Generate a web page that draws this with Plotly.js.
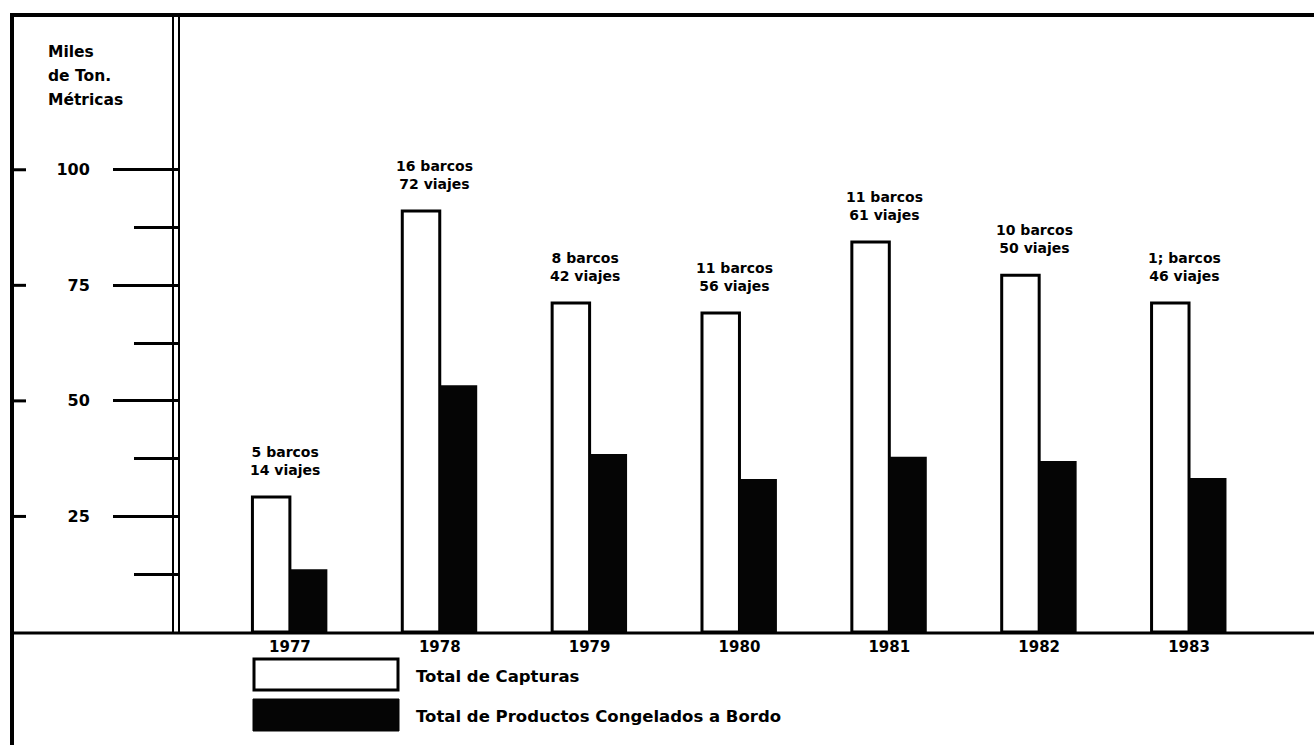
<!DOCTYPE html>
<html><head><meta charset="utf-8">
<script src="https://cdn.plot.ly/plotly-3.0.1.min.js"></script>
<style>html,body{margin:0;padding:0;background:#fff}</style>
</head><body><div id="chart" style="width:1314px;height:745px"></div>
<script>
// ---- data ----
const years = [1977, 1978, 1979, 1980, 1981, 1982, 1983];
const totalCapturas = [29.2, 91.1, 71.2, 69.0, 84.4, 77.2, 71.2];
const totalCongelados = [13.6, 53.4, 38.5, 33.1, 37.9, 37.0, 33.3];
const barcos = ['5 barcos', '16 barcos', '8 barcos', '11 barcos', '11 barcos', '10 barcos', '1; barcos'];
const viajes = ['14 viajes', '72 viajes', '42 viajes', '56 viajes', '61 viajes', '50 viajes', '46 viajes'];
const seriesNames = ['Total de Capturas', 'Total de Productos Congelados a Bordo'];
const yTickVals = [25, 50, 75, 100];
const yTickText = ['25', '50', '75', '100'];
const yMinorVals = [12.5, 37.5, 62.5, 87.5];
const yTitleLines = ['Miles', 'de Ton.', 'Métricas'];

// ---- layout helpers (pixel -> paper) ----
const W = 1314, H = 745, L = 179, T = 14, B = 113;
const PW = W - L, PH = H - T - B;
const px = p => (p - L) / PW;
const py = p => (H - B - p) / PH;
const FONT = 'DejaVu Sans, Liberation Sans, sans-serif';
const ink = '#000000';

const traces = [
  {type: 'bar', x: years, y: totalCapturas, name: seriesNames[0],
   marker: {color: '#ffffff', line: {color: ink, width: 3}}, hoverinfo: 'skip'},
  {type: 'bar', x: years, y: totalCongelados, name: seriesNames[1],
   marker: {color: '#050505', line: {color: '#050505', width: 0}}, hoverinfo: 'skip'}
];

const shapes = [
  // outer frame
  {type: 'line', xref: 'paper', yref: 'paper', x0: px(10), x1: px(1314), y0: py(15), y1: py(15), line: {color: ink, width: 4}},
  {type: 'line', xref: 'paper', yref: 'paper', x0: px(12), x1: px(12), y0: py(13), y1: py(745), line: {color: ink, width: 4}},
  // baseline
  {type: 'line', xref: 'paper', yref: 'paper', x0: px(12), x1: px(1314), y0: py(633), y1: py(633), line: {color: ink, width: 3}},
  // double vertical axis line
  {type: 'line', xref: 'paper', yref: 'paper', x0: px(173), x1: px(173), y0: py(15), y1: py(632), line: {color: ink, width: 2}},
  {type: 'line', xref: 'paper', yref: 'paper', x0: px(179), x1: px(179), y0: py(15), y1: py(632), line: {color: ink, width: 2}},
  // legend swatches
  {type: 'rect', xref: 'paper', yref: 'paper', x0: px(254), x1: px(398), y0: py(659), y1: py(690), fillcolor: '#ffffff', line: {color: ink, width: 3}},
  {type: 'rect', xref: 'paper', yref: 'paper', x0: px(253), x1: px(399), y0: py(699), y1: py(731), fillcolor: '#050505', line: {color: '#050505', width: 1}}
];
// small ticks on outer left border
yTickVals.forEach(v => shapes.push({type: 'line', xref: 'paper', yref: 'y', x0: px(12), x1: px(26), y0: v, y1: v, line: {color: ink, width: 3}}));

const annotations = [];
years.forEach((yr, i) => annotations.push({
  x: yr, y: totalCapturas[i], xref: 'x', yref: 'y', text: barcos[i] + '<br>' + viajes[i],
  showarrow: false, yanchor: 'bottom', xanchor: 'center', yshift: 17, xshift: -5, align: 'center',
  font: {family: FONT, size: 14, color: ink, weight: 700}
}));
const titleY = [52, 76, 100];
yTitleLines.forEach((t, i) => annotations.push({
  x: px(46), y: py(titleY[i]), xref: 'paper', yref: 'paper', text: t, showarrow: false,
  xanchor: 'left', yanchor: 'middle', font: {family: FONT, size: 15.5, color: ink, weight: 700}
}));
const legY = [676, 716];
seriesNames.forEach((n, i) => annotations.push({
  x: px(414), y: py(legY[i]), xref: 'paper', yref: 'paper', text: n, showarrow: false,
  xanchor: 'left', yanchor: 'middle', font: {family: FONT, size: 16.5, color: ink, weight: 700}
}));

const layout = {
  width: W, height: H, margin: {l: L, r: 0, t: T, b: B, pad: 0},
  paper_bgcolor: '#ffffff', plot_bgcolor: '#ffffff', showlegend: false,
  barmode: 'group', bargap: 0.5, bargroupgap: 0,
  xaxis: {type: 'linear', range: [1976.26, 1983.834], tickmode: 'array', tickvals: years,
          ticktext: years.map(String), ticks: '', showline: false, showgrid: false, zeroline: false,
          ticklabelstandoff: 4, tickfont: {family: FONT, size: 15, color: ink, weight: 700}, fixedrange: true},
  yaxis: {range: [0, 133.7], tickmode: 'array', tickvals: yTickVals, ticktext: yTickText,
          ticks: 'outside', ticklen: 65, tickwidth: 3, tickcolor: ink,
          showline: false, showgrid: false, zeroline: false, ticklabelstandoff: 20,
          tickfont: {family: FONT, size: 16, color: ink, weight: 700},
          minor: {tickmode: 'array', tickvals: yMinorVals, ticks: 'outside', ticklen: 44, tickwidth: 3, tickcolor: ink, showgrid: false},
          fixedrange: true},
  shapes: shapes, annotations: annotations
};

Plotly.newPlot('chart', traces, layout, {staticPlot: true, displayModeBar: false});
</script></body></html>
